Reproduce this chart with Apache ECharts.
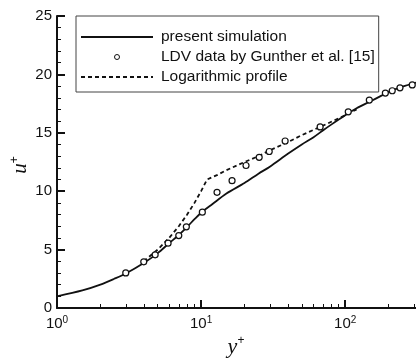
<!DOCTYPE html>
<html>
<head>
<meta charset="utf-8">
<script src="https://cdn.jsdelivr.net/npm/echarts@6/dist/echarts.min.js"></script>
<style>
  html, body { margin: 0; padding: 0; background: #fff; }
  #chart { width: 416px; height: 360px; }
</style>
</head>
<body>
<div id="chart"></div>
<script>
// Mean velocity profile in wall units: y+ (log scale) against u+
var simY = [1, 1.5, 2, 2.5, 3, 4, 5, 6, 7, 8, 9, 10, 12, 15, 20, 25, 30, 40, 50, 60, 70, 80, 100, 120, 150, 180, 200, 250, 310];
var simU = [1.0, 1.5, 2.0, 2.5, 2.95, 3.85, 4.7, 5.55, 6.25, 6.95, 7.6, 8.15, 8.9, 9.8, 10.7, 11.5, 12.1, 13.2, 14.0, 14.6, 15.2, 15.7, 16.5, 17.1, 17.7, 18.2, 18.5, 18.95, 19.3];

var ldvY = [3.0, 4.0, 4.8, 5.9, 7.0, 7.9, 10.2, 12.9, 16.4, 20.5, 25.3, 29.7, 38.3, 67, 105, 147, 190, 212, 240, 292];
var ldvU = [3.0, 3.95, 4.55, 5.55, 6.2, 6.95, 8.2, 9.9, 10.9, 12.2, 12.9, 13.4, 14.3, 15.5, 16.8, 17.8, 18.4, 18.6, 18.85, 19.1];

var logY = [4, 5, 6, 7, 8, 9, 10, 11, 13, 15, 20, 25, 30, 40, 50, 67, 100, 120];
var logU = [4, 5, 6, 7, 8, 9, 10, 11, 11.4, 11.8, 12.5, 13.0, 13.5, 14.2, 14.8, 15.5, 16.5, 17.0];

var seriesNames = ['present simulation', 'LDV data by Gunther et al. [15]', 'Logarithmic profile'];

// axis ticks and labels
var xMajorTicks = [1, 10, 100];
var xMinorTicks = [2, 3, 4, 5, 6, 7, 8, 9, 20, 30, 40, 50, 60, 70, 80, 90, 200, 300];
var xExponents = ['0', '1', '2'];
var yMin = 0, yMax = 25, yStep = 5;

function pairs(xs, ys) {
  return xs.map(function (x, i) { return [x, ys[i]]; });
}

var ink = '#111';
var sans = '"Liberation Sans", Arial, sans-serif';
var serif = '"Liberation Serif", "Times New Roman", serif';

var chart = echarts.init(document.getElementById('chart'), null, { renderer: 'canvas' });

chart.setOption({
  animation: false,
  backgroundColor: '#fff',
  grid: { left: 57, right: 0, top: 16, bottom: 52 },
  legend: {
    data: [
      // line samples only: the centre marker of a line legend icon is hidden
      { name: seriesNames[0], itemStyle: { opacity: 0 } },
      { name: seriesNames[1], icon: 'circle', itemStyle: { color: '#fff', borderColor: ink, borderWidth: 1 } },
      { name: seriesNames[2], itemStyle: { opacity: 0 } }
    ],
    orient: 'vertical',
    left: 76,
    top: 16,
    padding: [13, 4, 7, 4],
    itemWidth: 72,
    itemHeight: 5,
    itemGap: 4,
    borderColor: '#444',
    borderWidth: 1,
    backgroundColor: '#fff',
    textStyle: { fontFamily: sans, fontSize: 15.5, color: ink, padding: [0, 0, 0, 3] }
  },
  xAxis: [{
    type: 'log',
    logBase: 10,
    min: 1,
    max: 310,
    position: 'bottom',
    axisLine: { show: true, lineStyle: { color: ink, width: 2 } },
    axisTick: { show: true, inside: true, length: 8, customValues: xMajorTicks, lineStyle: { color: ink, width: 2 } },
    minorTick: { show: false },
    splitLine: { show: false },
    axisLabel: {
      customValues: xMajorTicks,
      margin: 7,
      formatter: function (v) {
        var i = xMajorTicks.indexOf(Math.round(v));
        return '{b|10}{s|' + xExponents[i] + '}';
      },
      rich: {
        b: { fontFamily: sans, fontSize: 15, color: ink, lineHeight: 18 },
        s: { fontFamily: sans, fontSize: 10, color: ink, verticalAlign: 'top', lineHeight: 12 }
      }
    }
  }, {
    type: 'log',
    logBase: 10,
    min: 1,
    max: 310,
    position: 'bottom',
    axisLine: { show: false },
    axisTick: { show: true, inside: true, length: 4, customValues: xMinorTicks, lineStyle: { color: ink, width: 1 } },
    axisLabel: { show: false },
    splitLine: { show: false }
  }],
  yAxis: {
    type: 'value',
    min: yMin,
    max: yMax,
    interval: yStep,
    axisLine: { show: true, lineStyle: { color: ink, width: 2 } },
    axisTick: { show: true, inside: true, length: 8, lineStyle: { color: ink, width: 2 } },
    minorTick: { show: true, splitNumber: 5, length: 4, lineStyle: { color: ink, width: 1 } },
    splitLine: { show: false },
    axisLabel: { fontFamily: sans, fontSize: 15, color: ink, margin: 5 }
  },
  series: [{
    name: seriesNames[2],
    type: 'line',
    data: pairs(logY, logU),
    showSymbol: false,
    symbol: 'none',
    lineStyle: { color: ink, width: 1.8, type: [4, 3] },
    itemStyle: { color: ink },
    z: 2
  }, {
    name: seriesNames[0],
    type: 'line',
    data: pairs(simY, simU),
    smooth: 0.3,
    showSymbol: false,
    symbol: 'none',
    lineStyle: { color: ink, width: 1.8 },
    itemStyle: { color: ink },
    z: 3
  }, {
    name: seriesNames[1],
    type: 'scatter',
    data: pairs(ldvY, ldvU),
    symbol: 'circle',
    symbolSize: 6,
    itemStyle: { color: '#fff', borderColor: ink, borderWidth: 1.2, opacity: 1 },
    z: 4
  }],
  graphic: [{
    type: 'text',
    x: 20,
    y: 165,
    rotation: Math.PI / 2,
    style: {
      text: '{i|u}{s|+}',
      align: 'center',
      verticalAlign: 'middle',
      rich: {
        i: { fontFamily: serif, fontStyle: 'italic', fontSize: 21, fill: ink, lineHeight: 22 },
        s: { fontFamily: sans, fontSize: 12, fill: ink, verticalAlign: 'top', lineHeight: 12 }
      }
    }
  }, {
    type: 'text',
    x: 236,
    y: 347,
    style: {
      text: '{i|y}{s|+}',
      align: 'center',
      verticalAlign: 'middle',
      rich: {
        i: { fontFamily: serif, fontStyle: 'italic', fontSize: 22, fill: ink, lineHeight: 24 },
        s: { fontFamily: sans, fontSize: 12, fill: ink, verticalAlign: 'top', lineHeight: 12 }
      }
    }
  }]
});
</script>
</body>
</html>
